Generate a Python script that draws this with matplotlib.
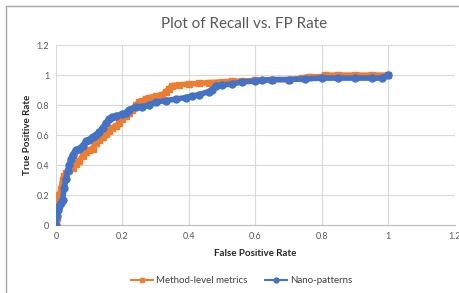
import matplotlib.pyplot as plt
from matplotlib.patches import Rectangle

plt.rcParams['font.family'] = ['Lato', 'DejaVu Sans']

# Method-level metrics (orange)
fpr_method = [0.0, 0.003, 0.006, 0.01, 0.015, 0.02, 0.025, 0.03, 0.04, 0.05, 0.06, 0.07,
              0.08, 0.09, 0.1, 0.11, 0.12, 0.13, 0.14, 0.15, 0.16, 0.17, 0.18, 0.19,
              0.2, 0.21, 0.22, 0.23, 0.24, 0.25, 0.26, 0.27, 0.28, 0.3, 0.32, 0.33,
              0.34, 0.35, 0.37, 0.4, 0.43, 0.46, 0.5, 0.53, 0.56, 0.6, 0.65, 0.7,
              0.74, 0.76, 0.8, 0.81, 0.85, 0.9, 0.95, 1.0]
tpr_method = [0.0, 0.05, 0.12, 0.2, 0.24, 0.3, 0.33, 0.35, 0.37, 0.38, 0.41, 0.43,
              0.46, 0.49, 0.5, 0.51, 0.55, 0.57, 0.59, 0.61, 0.63, 0.65, 0.66, 0.68,
              0.71, 0.73, 0.75, 0.77, 0.8, 0.82, 0.83, 0.84, 0.85, 0.86, 0.87, 0.89,
              0.91, 0.93, 0.935, 0.94, 0.945, 0.95, 0.955, 0.96, 0.96, 0.965, 0.97, 0.97,
              0.98, 0.99, 0.99, 1.0, 1.0, 1.0, 1.0, 1.0]

# Nano-patterns (blue)
fpr_nano = [0.0, 0.003, 0.006, 0.01, 0.015, 0.02, 0.025, 0.03, 0.035, 0.04, 0.045, 0.05,
            0.06, 0.07, 0.08, 0.09, 0.1, 0.11, 0.12, 0.13, 0.14, 0.15, 0.16, 0.17,
            0.18, 0.2, 0.21, 0.22, 0.24, 0.26, 0.28, 0.3, 0.33, 0.36, 0.39, 0.41,
            0.43, 0.46, 0.47, 0.48, 0.5, 0.53, 0.56, 0.6, 0.62, 0.65, 0.7, 0.75,
            0.8, 0.85, 0.9, 0.95, 0.98, 1.0]
tpr_nano = [0.0, 0.06, 0.1, 0.13, 0.15, 0.17, 0.25, 0.31, 0.36, 0.4, 0.44, 0.47,
            0.5, 0.51, 0.53, 0.56, 0.57, 0.59, 0.6, 0.62, 0.65, 0.68, 0.71, 0.72,
            0.73, 0.74, 0.75, 0.77, 0.79, 0.79, 0.8, 0.82, 0.83, 0.84, 0.85, 0.86,
            0.87, 0.89, 0.9, 0.93, 0.935, 0.94, 0.955, 0.96, 0.965, 0.97, 0.97, 0.975,
            0.98, 0.98, 0.98, 0.98, 0.98, 1.0]

fig = plt.figure(figsize=(4.6, 2.93), dpi=100)
ax = fig.add_axes([0.1217, 0.232, 0.867, 0.614])

ax.plot(fpr_method, tpr_method, color='#ED7D31', marker='s', markersize=4.5,
        linewidth=4, label='Method-level metrics', zorder=3)
ax.plot(fpr_nano, tpr_nano, color='#4472C4', marker='o', markersize=5,
        linewidth=4, label='Nano-patterns', zorder=4)

ax.set_xlim(0, 1.2)
ax.set_ylim(0, 1.2)
ax.set_xticks([0, 0.2, 0.4, 0.6, 0.8, 1, 1.2])
ax.set_xticklabels(['0', '0.2', '0.4', '0.6', '0.8', '1', '1.2'])
ax.set_yticks([0, 0.2, 0.4, 0.6, 0.8, 1, 1.2])
ax.set_yticklabels(['0', '0.2', '0.4', '0.6', '0.8', '1', '1.2'])
ax.grid(True, color='#d9d9d9', linewidth=0.8)
ax.set_axisbelow(True)
for s in ['top', 'right', 'left']:
    ax.spines[s].set_visible(False)
ax.spines['bottom'].set_color('#bfbfbf')
ax.tick_params(length=0, labelsize=6.5, colors='#595959', pad=5)

ax.set_xlabel('False Positive Rate', fontsize=7, fontweight='bold', color='#262626', labelpad=6)
ax.set_ylabel('True Positive Rate', fontsize=7, fontweight='bold', color='#262626', labelpad=3)

fig.text(0.53, 0.918, 'Plot of Recall vs. FP Rate', ha='center', va='center',
         fontsize=11, color='#595959')

ax.legend(loc='center', bbox_to_anchor=(0.465, -0.31), ncol=2, frameon=False,
          fontsize=7, handlelength=2.3, handletextpad=0.3, columnspacing=1.8,
          markerscale=0.7, labelcolor='#404040')
leg = ax.get_legend()
for h in leg.legend_handles:
    h.set_linewidth(1.5)

fig.patches.append(Rectangle((6 / 460, -0.1), 1.2, 1 - 6 / 293 + 0.1, transform=fig.transFigure,
                             fill=False, edgecolor='#a6a6a6', linewidth=1))

fig.savefig('out.png', dpi=100)
